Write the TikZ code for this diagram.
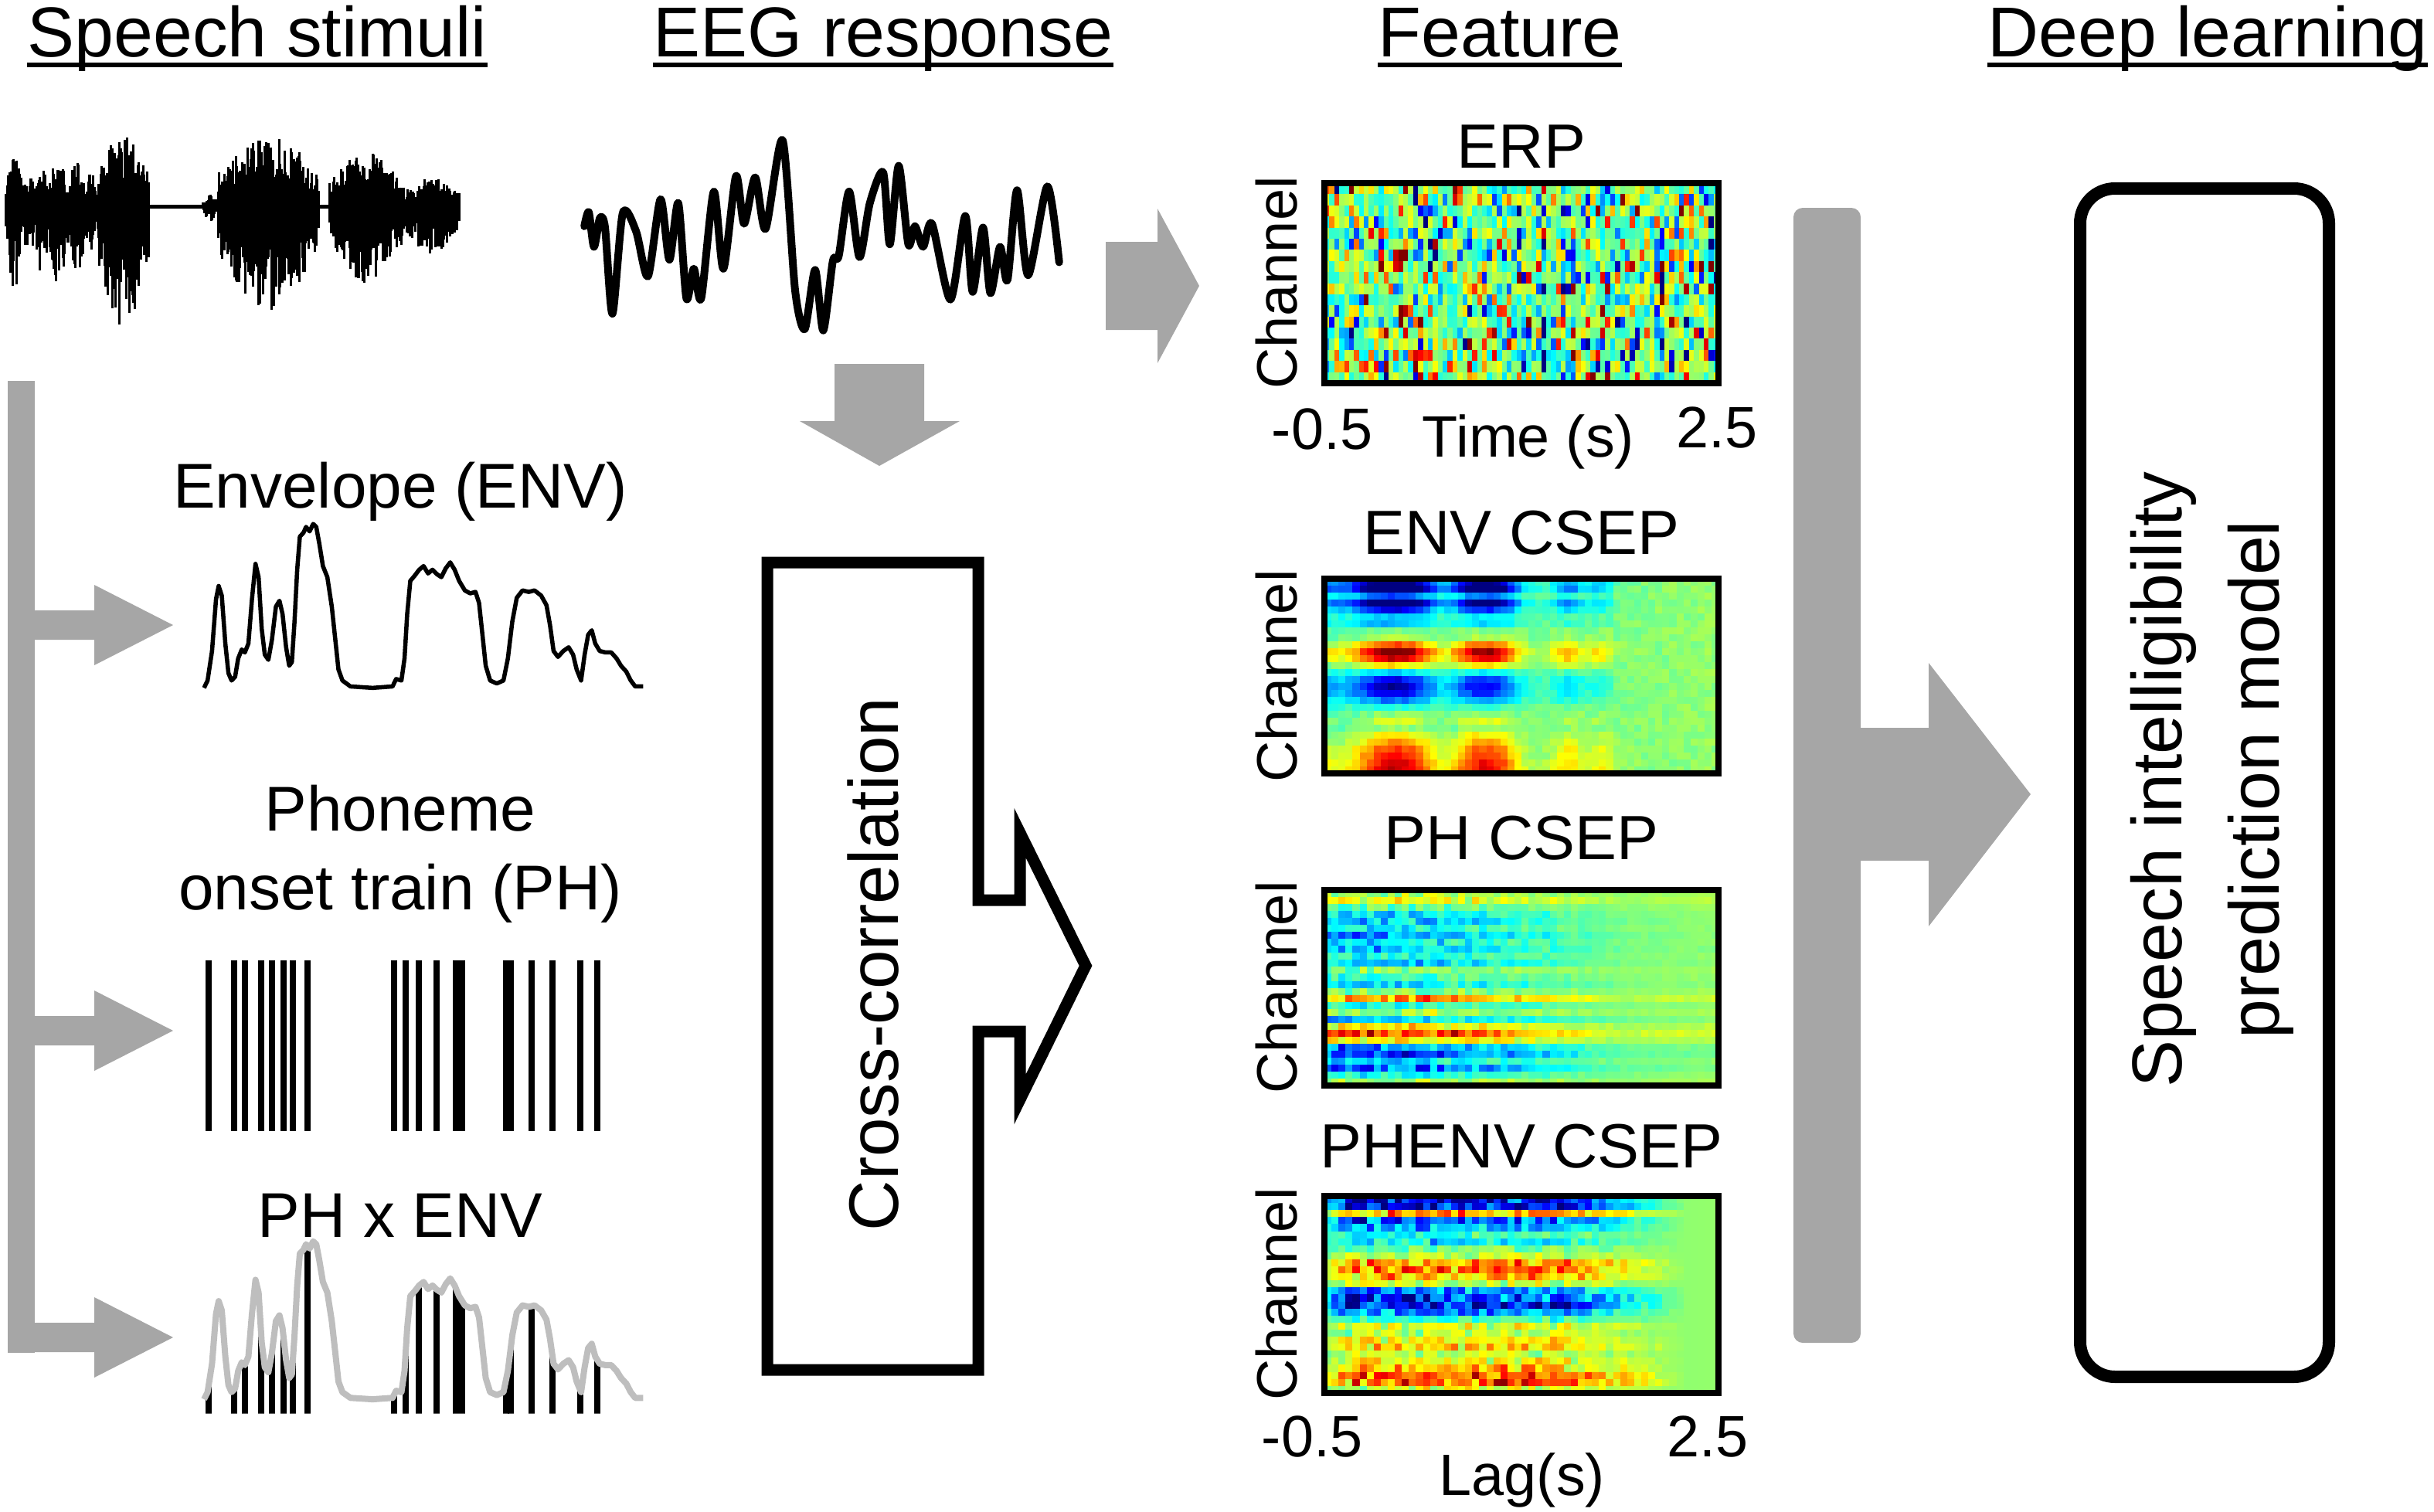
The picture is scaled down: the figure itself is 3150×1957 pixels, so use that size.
\documentclass[tikz,border=0pt]{standalone}
\usepackage{fontspec}
\setmainfont{Liberation Sans}
\definecolor{agray}{RGB}{166,166,166}
\definecolor{lgray}{RGB}{190,190,190}
\newcommand\jetcell[5]{%
  \pgfmathsetmacro\jv{max(0,min(1,#1))}%
  \pgfmathsetmacro\jr{max(0,min(1,1.5-abs(4*\jv-3)))}%
  \pgfmathsetmacro\jg{max(0,min(1,1.5-abs(4*\jv-2)))}%
  \pgfmathsetmacro\jb{max(0,min(1,1.5-abs(4*\jv-1)))}%
  \definecolor{jetc}{rgb}{\jr,\jg,\jb}%
  \fill[jetc] (#2,#3) rectangle ++(#4,#5);}
\def\envA{{-0.45,-0.5,-0.2,-0.5,-0.35,-0.15,-0.2,0.05,0.1,0.3,0.45,0.35,0.15,-0.1,-0.35,-0.5,-0.45,-0.25,-0.05,0.05,0.1,0.05,0.15,0.25,0.4,0.5,0.55,0.5}}
\def\phA{{0.1,0.2,0.0,-0.15,-0.2,-0.1,-0.25,-0.15,-0.2,-0.1,-0.2,0.05,-0.05,-0.15,0.05,0.35,-0.1,0.1,-0.2,0.25,0.5,0.25,-0.3,-0.4,-0.15,-0.35,-0.1,0.1}}
\def\peA{{-0.55,-0.5,0.35,-0.4,-0.3,-0.1,-0.2,0.0,0.1,0.35,0.4,0.3,0.1,-0.35,-0.5,-0.55,-0.35,-0.1,0.15,0.1,0.2,0.25,0.1,0.2,0.3,0.5,0.45,0.15}}
\def\envpath{(460,450) -- (468,440) -- (478,400) -- (487,330) -- (493,312) -- (500,325) -- (508,390) -- (515,430) -- (522,440) -- (530,435) -- (537,410) -- (545,398) -- (552,402) -- (560,390) -- (568,330) -- (576,282) -- (583,300) -- (590,370) -- (597,405) -- (605,412) -- (613,385) -- (622,340) -- (630,332) -- (637,350) -- (645,395) -- (652,420) -- (658,415) -- (664,360) -- (670,290) -- (676,245) -- (684,240) -- (690,232) -- (698,238) -- (706,228) -- (713,232) -- (720,255) -- (728,285) -- (738,300) -- (748,340) -- (756,385) -- (763,425) -- (772,440) -- (790,448) -- (840,450) -- (885,448) -- (893,438) -- (905,440) -- (912,410) -- (918,350) -- (925,305) -- (935,298) -- (945,290) -- (955,285) -- (965,295) -- (975,290) -- (985,296) -- (995,300) -- (1005,288) -- (1015,280) -- (1025,290) -- (1035,305) -- (1048,318) -- (1060,322) -- (1072,320) -- (1080,335) -- (1088,380) -- (1095,420) -- (1105,440) -- (1120,444) -- (1135,440) -- (1145,410) -- (1155,360) -- (1165,328) -- (1178,318) -- (1192,320) -- (1205,318) -- (1220,325) -- (1232,338) -- (1240,365) -- (1248,400) -- (1258,408) -- (1270,400) -- (1282,395) -- (1292,405) -- (1300,425) -- (1310,440) -- (1318,405) -- (1326,378) -- (1334,372) -- (1342,390) -- (1352,400) -- (1365,402) -- (1378,402) -- (1390,410) -- (1400,420) -- (1412,428) -- (1422,440) -- (1432,448) -- (1450,448)}
\def\barlist{470,528,553,588,614,640,660,693,889,915,944,985,1027,1042,1141,1152,1198,1246,1308,1346}
\begin{document}
\begin{tikzpicture}[x=0.01cm,y=-0.01cm,
  head/.style={font=\fontsize{26}{31}\selectfont, inner sep=0pt, anchor=base},
  lbl/.style={font=\fontsize{23.3}{28}\selectfont, inner sep=0pt, anchor=base},
  ftl/.style={font=\fontsize{23}{28}\selectfont, inner sep=0pt, anchor=base},
  axl/.style={font=\fontsize{21.5}{26}\selectfont, inner sep=0pt, anchor=base},
  chl/.style={font=\fontsize{21}{25}\selectfont, inner sep=0pt, rotate=90},
  uline/.style={line width=0.055cm},
  mapbox/.style={line width=0.08cm},
  spk/.style={line width=0.03cm},
  phbar/.style={line width=0.08cm}]
\useasboundingbox (0,0) rectangle (3150,1957);
\pgfmathsetseed{2718}

% ---------- headings ----------
\node[head] (hs) at (333,73) {Speech stimuli};
\node[head] (he) at (1143,73) {EEG response};
\node[head] (hf) at (1941,73) {Feature};
\node[head] (hd) at (2857,73) {Deep learning};
\foreach \h in {hs,he,hf,hd}
  \draw[uline] ([yshift=-0.11cm]\h.base west) -- ([yshift=-0.11cm]\h.base east);

% ---------- speech waveform ----------
\foreach \xa/\xb/\up/\dn/\n in {8/30/65/110/16, 30/45/45/70/11, 45/63/60/90/13, 63/88/62/105/18, 88/110/58/95/16, 110/126/45/70/12, 126/192/92/160/48, 262/282/15/20/14, 282/412/95/135/95, 426/522/70/100/70, 522/594/38/65/52}{
  \foreach \k in {0,...,\n}{
    \pgfmathsetmacro\ff{\k/\n}
    \pgfmathsetmacro\xx{\xa+(\xb-\xa)*\ff}
    \pgfmathsetmacro\ee{0.45+0.55*sin(180*\ff)}
    \pgfmathsetmacro\ru{\up*\ee*(0.35+0.65*rnd)}
    \pgfmathsetmacro\rd{\dn*\ee*(0.35+0.65*rnd)}
    \draw[spk] (\xx,267-\ru) -- (\xx,267+\rd);
  }
}
\draw[line width=0.05cm] (190,267) -- (264,267);
\draw[line width=0.05cm] (410,267) -- (428,267);

% ---------- EEG waveform ----------
\begin{scope}[x=0.00957cm,y=-0.00333cm]
\draw[line width=0.1cm, line join=round, line cap=round] plot[smooth, tension=0.45] coordinates {
(790,880) (796,825) (803,960) (811,848) (818,885) (828,1220) (842,828) (860,900) (876,1075) (893,775) (905,1010) (917,790) (928,1160) (938,1045) (948,1160) (965,745) (978,1045) (995,685) (1006,870) (1021,690) (1035,890) (1058,545) (1075,1130) (1088,1280) (1102,1050) (1113,1285) (1126,1015) (1134,995) (1148,745) (1162,1000) (1176,790) (1194,670) (1203,950) (1215,645) (1228,950) (1237,880) (1248,960) (1260,870) (1285,1165) (1305,840) (1315,1135) (1329,885) (1339,1140) (1352,960) (1362,1090) (1375,740) (1390,1070) (1416,725) (1432,1020)};
\end{scope}

% ---------- left gray bracket arrows ----------
\fill[agray] (10,493) rectangle (45,1751);
\foreach \c in {809,1334,1731}
  \fill[agray] (44,\c-19) -- (122,\c-19) -- (122,\c-52) -- (224,\c) -- (122,\c+52) -- (122,\c+19) -- (44,\c+19) -- cycle;

% ---------- ENV curve and PH train ----------
\begin{scope}[x=0.00574cm,y=-0.00955cm,yshift=-4.6cm]
\draw[line width=0.055cm, line join=round] \envpath;
\foreach \b in \barlist \draw[phbar] (\b,819) -- (\b,1050);
\end{scope}

% ---------- PH x ENV ----------
\begin{scope}[x=0.00574cm,y=-0.0092cm,yshift=-13.96cm]
\begin{scope}
\clip \envpath -- (1450,470) -- (460,470) -- cycle;
\foreach \b in \barlist \draw[phbar] (\b,470) -- (\b,150);
\end{scope}
\draw[line width=0.08cm, lgray, line join=round] \envpath;
\end{scope}

% ---------- labels left ----------
\node[lbl] (tenv) at (518,657) {Envelope (ENV)};
\node[lbl] (tph1) at (518,1075) {Phoneme};
\node[lbl] (tph2) at (518,1177) {onset train (PH)};
\node[lbl] (tpe) at (518,1601) {PH x ENV};

% ---------- gray arrows middle ----------
\fill[agray] (1080,471) -- (1196,471) -- (1196,545) -- (1242,545) -- (1138,603) -- (1035,545) -- (1080,545) -- cycle;
\fill[agray] (1431,313) -- (1498,313) -- (1498,270) -- (1552,370) -- (1498,470) -- (1498,427) -- (1431,427) -- cycle;

% ---------- cross-correlation ----------
\draw[line width=0.15cm, miter limit=10] (993,728) -- (1266,728) -- (1266,1165) -- (1320,1165) -- (1320,1078) -- (1405,1250) -- (1320,1423) -- (1320,1335) -- (1266,1335) -- (1266,1773) -- (993,1773) -- cycle;
\node[rotate=90, font=\fontsize{25.8}{30}\selectfont, inner sep=0pt] (tcc) at (1130,1248) {Cross-correlation};

% ---------- heatmaps ----------
% ERP
\foreach \i in {0,...,79}{
  \pgfmathsetmacro\ca{0.5+0.8*rnd}
  \foreach \j in {0,...,17}{
    \pgfmathsetmacro\rr{rand}
    \pgfmathsetmacro\vv{0.5+\ca*0.55*\rr*\rr*\rr+0.1*rand}
    \jetcell{\vv}{1714+\i*6.375}{237+\j*14.39}{7.375}{15.39}
  }
}
% ENV CSEP
\foreach \i in {0,...,55}{
  \pgfmathsetmacro\uu{(\i+0.5)/56}
  \pgfmathsetmacro\ga{max(0,1-(\uu-0.18)*(\uu-0.18)/0.0196)}
  \pgfmathsetmacro\gb{max(0,1-(\uu-0.41)*(\uu-0.41)/0.0144)}
  \pgfmathsetmacro\gc{max(0,1-(\uu-0.62)*(\uu-0.62)/0.0036)}
  \pgfmathsetmacro\gd{max(0,1-(\uu-0.70)*(\uu-0.70)/0.0025)}
  \pgfmathsetmacro\gsum{\ga*\ga+0.95*\gb*\gb+0.4*\gc*\gc+0.3*\gd*\gd}
  \pgfmathsetmacro\bl{max(0,1-\uu/0.85)}
  \pgfmathsetmacro\lf{max(0,1-\uu/0.75)}
  \foreach \j in {0,...,27}{
    \pgfmathsetmacro\ra{\envA[\j]}
    \pgfmathsetmacro\rj{0.9+0.25*sin(\j*37.5+40)}
    \pgfmathsetmacro\vv{0.44+0.08*\uu+\ra*\rj*(0.9*\gsum+0.3*\bl)+0.1*\ra*\lf+0.03*rand}
    \jetcell{\vv}{1714+\i*9.11}{749+\j*9}{10.11}{10}
  }
}
% PH CSEP
\foreach \i in {0,...,55}{
  \pgfmathsetmacro\uu{(\i+0.5)/56}
  \pgfmathsetmacro\hh{min(1,max(0.15,1.42-1.67*\uu))}
  \foreach \j in {0,...,27}{
    \pgfmathsetmacro\ra{\phA[\j]}
    \pgfmathsetmacro\vv{0.45+0.08*\uu+\ra*\hh*(0.45+0.55*rnd)+0.08*\hh*rand}
    \jetcell{\vv}{1714+\i*9.11}{1152+\j*9.04}{10.11}{10.04}
  }
}
% PHENV CSEP
\foreach \i in {0,...,55}{
  \pgfmathsetmacro\uu{(\i+0.5)/56}
  \pgfmathsetmacro\hh{min(1,max(0,(0.92-\uu)/0.35))*min(1,(\uu+0.03)/0.1)}
  \foreach \j in {0,...,27}{
    \pgfmathsetmacro\ra{\peA[\j]}
    \pgfmathsetmacro\vv{0.47+0.05*\uu+\ra*\hh*(0.35+0.65*rnd)+0.08*\hh*rand}
    \jetcell{\vv}{1714+\i*9.11}{1548+\j*9.1}{10.11}{10.1}
  }
}
\draw[mapbox] (1714,237) rectangle (2224,496);
\draw[mapbox] (1714,749) rectangle (2224,1001);
\draw[mapbox] (1714,1152) rectangle (2224,1405);
\draw[mapbox] (1714,1548) rectangle (2224,1803);

% ---------- feature labels ----------
\node[ftl] (terp) at (1969,217) {ERP};
\node[ftl] (tenvc) at (1969,717) {ENV CSEP};
\node[ftl] (tphc) at (1969,1112) {PH CSEP};
\node[ftl] (tpec) at (1969,1511) {PHENV CSEP};
\node[chl] (ch1) at (1652,366) {Channel};
\node[chl] (ch2) at (1652,875) {Channel};
\node[chl] (ch3) at (1652,1278) {Channel};
\node[chl] (ch4) at (1652,1675) {Channel};
\node[axl] (ax1) at (1711,581) {-0.5};
\node[axl] (ax2) at (1978,591) {Time (s)};
\node[axl] (ax3) at (2222,579) {2.5};
\node[axl] (ax4) at (1698,1885) {-0.5};
\node[axl] (ax5) at (2210,1885) {2.5};
\node[axl] (ax6) at (1970,1935) {Lag(s)};

% ---------- deep learning ----------
\fill[agray, rounded corners=0.12cm] (2321,269) rectangle (2408,1738);
\fill[agray] (2400,942) -- (2496,942) -- (2496,858) -- (2628,1028) -- (2496,1199) -- (2496,1114) -- (2400,1114) -- cycle;
\draw[line width=0.16cm, rounded corners=0.45cm] (2692,244) rectangle (3014,1782);
\node[rotate=90, align=center, font=\fontsize{26}{36}\selectfont, inner sep=0pt] (tm) at (2863,1009) {Speech intelligibility\\prediction model};
\end{tikzpicture}
\end{document}
